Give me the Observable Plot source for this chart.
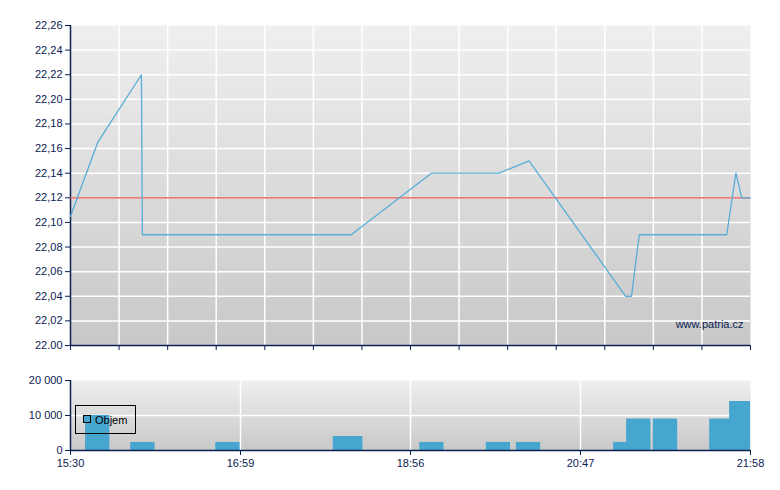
<!DOCTYPE html>
<html>
<head>
<meta charset="utf-8">
<script src="https://cdn.jsdelivr.net/npm/d3@7"></script>
<script src="https://cdn.jsdelivr.net/npm/@observablehq/plot@0.6"></script>
<style>
  html, body { margin: 0; padding: 0; background: #ffffff; }
  #chart svg { display: block; }
</style>
</head>
<body>
<div id="chart"></div>
<script>
// ---- data (x in axis slots: 14 equal slots between 15:30 and 21:58) ----
const priceSlot = [0, 0.56, 1.46, 1.48, 5.78, 7.43, 8.82, 9.44, 11.43, 11.55, 11.71, 13.51, 13.70, 13.82, 14];
const priceValue = [22.105, 22.165, 22.22, 22.09, 22.09, 22.14, 22.14, 22.15, 22.04, 22.04, 22.09, 22.09, 22.14, 22.12, 22.12];
const previousClose = 22.12;

const volumeSlot = [0.31, 1.24, 2.99, 5.41, 5.52, 7.19, 8.56, 9.18, 11.18, 11.45, 12.0, 13.16, 13.57];
const volumeValue = [10000, 2300, 2300, 4000, 4000, 2300, 2300, 2300, 2300, 9000, 9000, 9000, 14000];

const priceTicks = [22.00, 22.02, 22.04, 22.06, 22.08, 22.10, 22.12, 22.14, 22.16, 22.18, 22.20, 22.22, 22.24, 22.26];
const priceTickLabels = ["22.00", "22,02", "22,04", "22,06", "22,08", "22,10", "22,12", "22,14", "22,16", "22,18", "22,20", "22,22", "22,24", "22,26"];
const slotTicks = [0, 1, 2, 3, 4, 5, 6, 7, 8, 9, 10, 11, 12, 13, 14];
const timeTicks = [0, 3.5, 7, 10.5, 14];
const timeLabels = ["15:30", "16:59", "18:56", "20:47", "21:58"];
const volumeTicks = [0, 10000, 20000];
const volumeTickLabels = ["0", "10 000", "20 000"];
const legendLabel = "Objem";
const watermark = "www.patria.cz";

// ---- styles ----
const navy = "#0b2152";
const lineColor = "#58aed6";
const barColor = "#47a6cf";
const redColor = "#e35050";
const font = "'Liberation Sans', Arial, sans-serif";

const priceData = priceSlot.map((x, i) => ({x, y: priceValue[i]}));
const volumeData = volumeSlot.map((x, i) => ({x, v: volumeValue[i]}));
const barWidth = 0.5;

function addGradient(svg, id) {
  const defs = d3.select(svg).insert("defs", ":first-child");
  const g = defs.append("linearGradient").attr("id", id)
    .attr("x1", 0).attr("y1", 0).attr("x2", 0).attr("y2", 1);
  g.append("stop").attr("offset", "0%").attr("stop-color", "#efefef");
  g.append("stop").attr("offset", "100%").attr("stop-color", "#c8c8c8");
}

const common = {
  width: 780,
  marginLeft: 70,
  marginRight: 30,
  style: {fontFamily: font, fontSize: "11px", color: navy, background: "transparent", overflow: "visible"}
};

const priceChart = Plot.plot({
  ...common,
  height: 360,
  marginTop: 25,
  marginBottom: 15,
  x: {domain: [0, 14]},
  y: {domain: [22.00, 22.26]},
  marks: [
    Plot.frame({fill: "url(#gradTop)", stroke: "none"}),
    Plot.gridX(slotTicks.slice(1, -1), {stroke: "#ffffff", strokeOpacity: 1, strokeWidth: 1.5}),
    Plot.gridY(priceTicks.slice(1, -1), {stroke: "#ffffff", strokeOpacity: 1, strokeWidth: 1.5}),
    Plot.axisY(priceTicks, {label: null, tickSize: 5, tickPadding: 3, tickFormat: (d, i) => priceTickLabels[i], fill: navy, stroke: navy}),
    Plot.axisX(slotTicks, {label: null, tickSize: 5, tickFormat: () => "", stroke: navy}),
    Plot.ruleX([0], {stroke: navy, strokeWidth: 1.5}),
    Plot.ruleY([22.00], {stroke: navy, strokeWidth: 1.5}),
    Plot.ruleY([previousClose], {stroke: redColor, strokeWidth: 1.3}),
    Plot.line(priceData, {x: "x", y: "y", stroke: lineColor, strokeWidth: 1.3}),
    Plot.text([watermark], {frameAnchor: "bottom-right", textAnchor: "end", lineAnchor: "bottom", dx: -7, dy: -18, fill: navy, fontSize: 11})
  ]
});
addGradient(priceChart, "gradTop");

const volumeChart = Plot.plot({
  ...common,
  height: 130,
  marginTop: 20,
  marginBottom: 40,
  x: {domain: [0, 14]},
  y: {domain: [0, 20000]},
  marks: [
    Plot.frame({fill: "url(#gradBottom)", stroke: "none"}),
    Plot.gridX(timeTicks.slice(1, -1), {stroke: "#ffffff", strokeOpacity: 1, strokeWidth: 1.5}),
    Plot.gridY([10000], {stroke: "#ffffff", strokeOpacity: 1, strokeWidth: 1.5}),
    Plot.rectY(volumeData, {x1: "x", x2: d => Math.min(d.x + barWidth, 14), y: "v", fill: barColor}),
    Plot.axisY(volumeTicks, {label: null, tickSize: 5, tickPadding: 3, tickFormat: (d, i) => volumeTickLabels[i], fill: navy, stroke: navy}),
    Plot.axisX(timeTicks, {label: null, tickSize: 5, tickPadding: 4, tickFormat: (d, i) => timeLabels[i], fill: navy, stroke: navy}),
    Plot.ruleX([0], {stroke: navy, strokeWidth: 1.5}),
    Plot.ruleY([0], {stroke: navy, strokeWidth: 1.5})
  ]
});
addGradient(volumeChart, "gradBottom");

// legend box inside the volume panel
const lg = d3.select(volumeChart).append("g").attr("font-family", font).attr("text-anchor", "start");
lg.append("rect").attr("x", 75.5).attr("y", 45.5).attr("width", 60).attr("height", 28)
  .attr("fill", "none").attr("stroke", "#000000").attr("stroke-width", 1);
lg.append("rect").attr("x", 83.5).attr("y", 55.5).attr("width", 7).attr("height", 7)
  .attr("fill", barColor).attr("stroke", "#000000").attr("stroke-width", 1);
lg.append("text").attr("x", 95).attr("y", 64).attr("font-size", 11).attr("fill", "#000000")
  .attr("text-anchor", "start").text(legendLabel);

const chart = document.getElementById("chart");
chart.appendChild(priceChart);
chart.appendChild(volumeChart);
</script>
</body>
</html>
